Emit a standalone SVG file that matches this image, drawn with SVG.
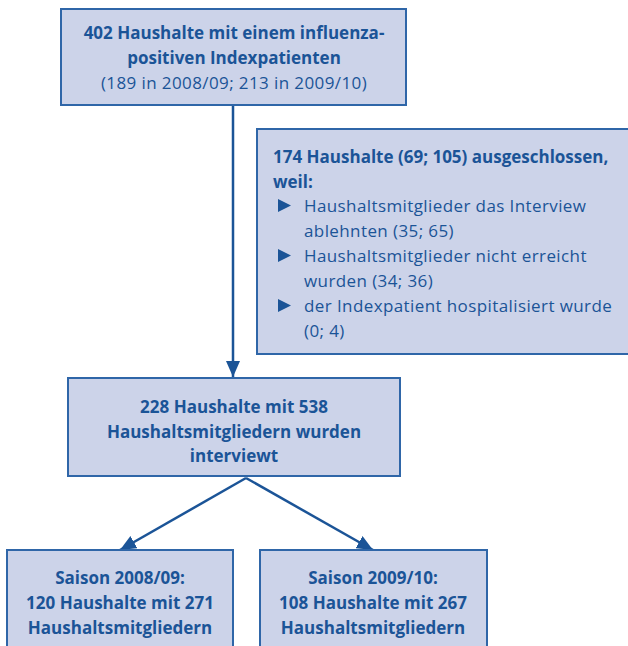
<svg xmlns="http://www.w3.org/2000/svg" width="628" height="646" viewBox="0 0 628 646">
<defs>
<style>
.box{fill:#ccd3e9;stroke:#2f66a8;stroke-width:2}
text{font-family:"Open Sans","Liberation Sans",sans-serif;font-size:17px;letter-spacing:0.4px;fill:#1b5497}
.b{font-weight:700;letter-spacing:0}
.c{text-anchor:middle}
.ln{stroke:#1b5497;stroke-width:2.5;fill:none}
.bul{fill:#1b5497}
</style>
<marker id="ah" viewBox="0 0 16 14" refX="16" refY="7" markerWidth="16" markerHeight="14" markerUnits="userSpaceOnUse" orient="auto">
<path d="M0,0 L16,7 L0,14 Z" fill="#1b5497"/>
</marker>
</defs>
<rect width="628" height="646" fill="#ffffff"/>
<g id="connectors">
<line class="ln" x1="233" y1="105" x2="233" y2="377" marker-end="url(#ah)"/>
<line class="ln" x1="246" y1="478" x2="120" y2="550" marker-end="url(#ah)"/>
<line class="ln" x1="246" y1="478" x2="373" y2="550" marker-end="url(#ah)"/>
</g>
<g id="node-top">
<rect class="box" x="61" y="9" width="345" height="96"/>
<text class="b c" x="234" y="39">402 Haushalte mit einem influenza-</text>
<text class="b c" x="234" y="64">positiven Indexpatienten</text>
<text class="c" x="234" y="89">(189 in 2008/09; 213 in 2009/10)</text>
</g>
<g id="node-excluded">
<rect class="box" x="257" y="129" width="380" height="225"/>
<text class="b" x="273" y="163">174 Haushalte (69; 105) ausgeschlossen,</text>
<text class="b" x="273" y="188">weil:</text>
<path class="bul" d="M278,199 L291,205.5 L278,212 Z"/>
<text x="304" y="212">Haushaltsmitglieder das Interview</text>
<text x="304" y="237">ablehnten (35; 65)</text>
<path class="bul" d="M278,249 L291,255.5 L278,262 Z"/>
<text x="304" y="262">Haushaltsmitglieder nicht erreicht</text>
<text x="304" y="287">wurden (34; 36)</text>
<path class="bul" d="M278,299 L291,305.5 L278,312 Z"/>
<text x="304" y="312">der Indexpatient hospitalisiert wurde</text>
<text x="304" y="337">(0; 4)</text>
</g>
<g id="node-interviewed">
<rect class="box" x="68" y="378" width="332" height="98"/>
<text class="b c" x="234" y="413">228 Haushalte mit 538</text>
<text class="b c" x="234" y="438">Haushaltsmitgliedern wurden</text>
<text class="b c" x="234" y="462">interviewt</text>
</g>
<g id="node-season1">
<rect class="box" x="7" y="550" width="226" height="110"/>
<text class="b c" x="120" y="584">Saison 2008/09:</text>
<text class="b c" x="120" y="609">120 Haushalte mit 271</text>
<text class="b c" x="120" y="634">Haushaltsmitgliedern</text>
</g>
<g id="node-season2">
<rect class="box" x="260" y="550" width="227" height="110"/>
<text class="b c" x="373" y="584">Saison 2009/10:</text>
<text class="b c" x="373" y="609">108 Haushalte mit 267</text>
<text class="b c" x="373" y="634">Haushaltsmitgliedern</text>
</g>
</svg>
